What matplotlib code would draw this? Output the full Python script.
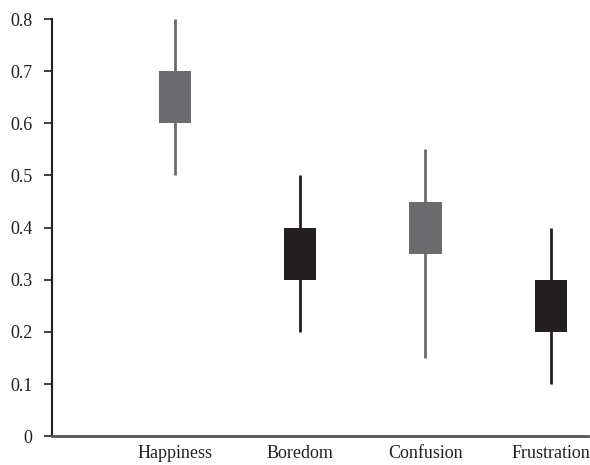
import matplotlib
matplotlib.use("Agg")
import matplotlib.pyplot as plt

plt.rcParams["font.family"] = ["Liberation Serif", "DejaVu Serif"]

categories = ["Happiness", "Boredom", "Confusion", "Frustration"]
low = [0.5, 0.2, 0.15, 0.1]
box_bottom = [0.6, 0.3, 0.35, 0.2]
box_top = [0.7, 0.4, 0.45, 0.3]
high = [0.8, 0.5, 0.55, 0.4]
colors = ["#6b6b6e", "#231f20", "#6b6b6e", "#231f20"]

fig = plt.figure(figsize=(5.9, 4.65), dpi=100)
ax = fig.add_axes([0.088, 0.062, 0.909, 0.897])

x = range(len(categories))
for i in x:
    ax.vlines(i, low[i], high[i], color=colors[i], linewidth=2, zorder=1)
    ax.bar(i, box_top[i] - box_bottom[i], bottom=box_bottom[i], width=0.256,
           color=colors[i], zorder=2)

ax.set_xlim(-0.984, 3.3)
ax.set_ylim(0, 0.8)
ax.set_yticks([0, 0.1, 0.2, 0.3, 0.4, 0.5, 0.6, 0.7, 0.8])
ax.set_yticklabels(["0", "0.1", "0.2", "0.3", "0.4", "0.5", "0.6", "0.7", "0.8"])
ax.set_xticks(list(x))
ax.set_xticklabels(categories)

ax.spines["top"].set_visible(False)
ax.spines["right"].set_visible(False)
ax.spines["left"].set_color("#231f20")
ax.spines["left"].set_linewidth(1.5)
ax.spines["bottom"].set_color("#555555")
ax.spines["bottom"].set_linewidth(2)

ax.tick_params(axis="y", length=6, width=1.2, color="#231f20", labelsize=13,
               labelcolor="#231f20", pad=8)
ax.tick_params(axis="x", length=0, labelsize=13, labelcolor="#231f20", pad=6)

fig.savefig("out.png", dpi=100)
